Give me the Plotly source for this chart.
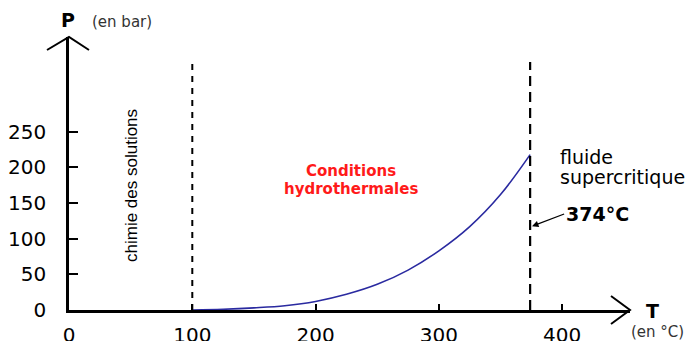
import plotly.graph_objects as go

# Courbe de vapeur saturante de l'eau
temp_c = [100, 125, 150, 175, 200, 225, 250, 275, 300, 325, 350, 374]
pression_bar = [0, 1, 3, 6, 12, 22, 36, 56, 83, 117, 162, 218]

x_ticks = [0, 100, 200, 300, 400]
y_ticks = [0, 50, 100, 150, 200, 250]

t_solutions = 100
t_critique = 374
x_max = 455
y_max = 383
y_dash_top = 348

# plot area in pixels (page coords); page body has an 8px margin
OFF = 8
L, T, W, H = 69, 37, 561, 273
FW, FH = 694 - OFF, 341 - OFF


def px(x, y):
    return (x - L) / W, (T + H - y) / H


fig = go.Figure()

fig.add_trace(go.Scatter(
    x=temp_c, y=pression_bar, mode='lines',
    line=dict(color='#2a2aa0', width=1.6, shape='spline'),
    hoverinfo='skip'
))

# dashed boundaries
fig.add_trace(go.Scatter(
    x=[t_solutions, t_solutions], y=[0, y_dash_top], mode='lines',
    line=dict(color='black', width=2, dash='6px,6px'),
    hoverinfo='skip'
))
fig.add_trace(go.Scatter(
    x=[t_critique, t_critique], y=[0, y_dash_top], mode='lines',
    line=dict(color='black', width=2.2, dash='10px,6px'),
    hoverinfo='skip'
))

# axis arrow heads (open chevrons)
ax0, ay0 = px(47, 50)
ax1, ay1 = px(69, 37)
ax2, ay2 = px(89, 50)
fig.add_shape(type='path', xref='paper', yref='paper',
              path=f'M {ax0} {ay0} L {ax1} {ay1} L {ax2} {ay2}',
              line=dict(color='black', width=2))
bx0, by0 = px(611, 296)
bx1, by1 = px(630, 310)
bx2, by2 = px(611, 324)
fig.add_shape(type='path', xref='paper', yref='paper',
              path=f'M {bx0} {by0} L {bx1} {by1} L {bx2} {by2}',
              line=dict(color='black', width=2))

font = 'DejaVu Sans, sans-serif'
narrow = 'Liberation Sans, Arial, sans-serif'
red = '#ff1a1a'

ann = [
    dict(x=68, y=20, text='<b>P</b>', font=dict(size=19)),
    dict(x=122, y=22, text='(en bar)', font=dict(size=15, color='#333')),
    dict(x=652, y=311, text='<b>T</b>', font=dict(size=19)),
    dict(x=657, y=332, text='(en °C)', font=dict(size=15, color='#333')),
    dict(x=131, y=186, text='chimie des solutions',
         textangle=-90, font=dict(size=17, family=narrow)),
    dict(x=351, y=171, text='<b>Conditions</b>', font=dict(size=15, color=red)),
    dict(x=351, y=189, text='<b>hydrothermales</b>', font=dict(size=15, color=red)),
    dict(x=558, y=157, text='fluide', xanchor='left', font=dict(size=19)),
    dict(x=558, y=177, text='supercritique', xanchor='left', font=dict(size=19)),
]
for a in ann:
    a.setdefault('xanchor', 'center')
    a['x'], a['y'] = px(a['x'], a['y'])
    fig.add_annotation(xref='paper', yref='paper', showarrow=False, yanchor='middle', **a)

fig.add_annotation(
    x=t_critique, y=(310 - 227) / H * y_max, xref='x', yref='y',
    ax=34, ay=-13, text='<b>374°C</b>', showarrow=True,
    arrowhead=2, arrowsize=1, arrowwidth=1.3, arrowcolor='black',
    xanchor='left', font=dict(size=19, color='black'), standoff=2
)

fig.update_xaxes(
    range=[0, x_max], tickvals=x_ticks, showgrid=False, zeroline=False,
    showline=True, linecolor='black', linewidth=2.5, automargin=False,
    ticks='inside', ticklen=6, tickwidth=2, tickcolor='black',
    ticklabelstandoff=5, tickfont=dict(size=20, color='black')
)
fig.update_yaxes(
    range=[0, y_max], tickvals=y_ticks, showgrid=False, zeroline=False,
    showline=True, linecolor='black', linewidth=2.5, automargin=False,
    ticks='inside', ticklen=9, tickwidth=1.5, tickcolor='black',
    ticklabelstandoff=16, tickfont=dict(size=20, color='black')
)

fig.update_layout(
    width=FW, height=FH,
    margin=dict(l=L - OFF, r=FW - (L - OFF) - W, t=T - OFF, b=FH - (T - OFF) - H),
    plot_bgcolor='white', paper_bgcolor='white',
    showlegend=False,
    font=dict(family=font, color='black')
)

fig.write_html("out.html")
